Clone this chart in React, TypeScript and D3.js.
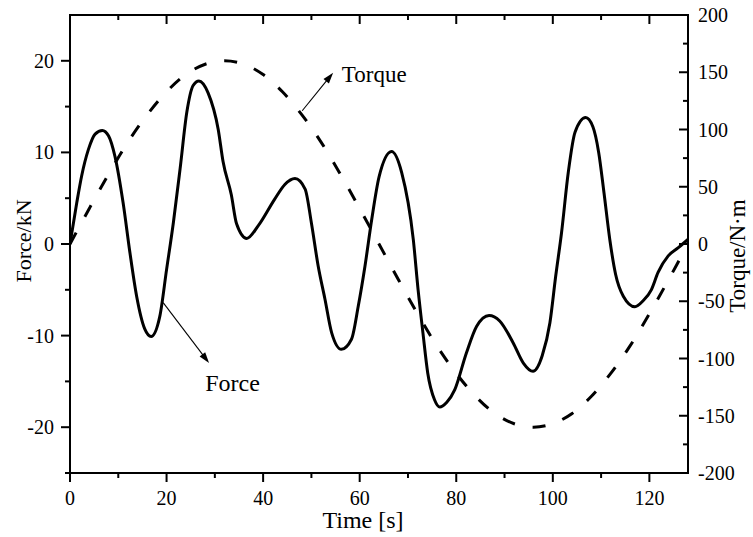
import React from "react";
import * as d3 from "d3";

const W = 753;
const H = 537;
const M = { left: 70, top: 15, right: 65, bottom: 64 };

// Force curve (time in s, force in kN)
const forceTime = [0, 1.4, 2.4, 3.8, 5.2, 6.7, 8.0, 9.3, 11.0, 12.4, 13.8, 15.5, 16.8, 18.6, 20.0, 21.4, 22.8, 24.2, 25.5, 26.7, 28.6, 30.7, 31.7, 33.4, 34.5, 36.6, 39.0, 42.4, 44.5, 46.6, 48.7, 50.0, 51.4, 52.8, 54.2, 56.2, 58.3, 59.7, 61.1, 62.5, 64.0, 66.6, 68.7, 71.1, 72.1, 73.1, 74.1, 75.5, 76.6, 78.0, 79.7, 82.1, 84.2, 86.8, 89.0, 91.8, 93.9, 95.9, 97.8, 99.4, 100.6, 101.8, 103.2, 104.6, 106.8, 108.3, 109.5, 110.6, 111.8, 113.0, 114.6, 117.0, 118.7, 120.4, 121.8, 123.9, 126.0, 128];
const forceValue = [0, 4.5, 7.4, 10.3, 12.0, 12.4, 11.8, 9.6, 4.5, -0.9, -5.7, -9.3, -10.1, -7.9, -2.8, 2.3, 8.2, 14.4, 17.3, 17.8, 16.5, 12.5, 9.0, 5.4, 2.2, 0.6, 2.0, 4.9, 6.5, 7.15, 6.0, 2.3, -2.4, -6.0, -9.7, -11.5, -10.4, -6.8, -2.4, 2.7, 7.3, 10.1, 7.8, 0.5, -5.0, -9.7, -14.1, -17.0, -17.8, -17.3, -15.9, -11.9, -9.0, -7.8, -8.4, -10.8, -13.0, -13.9, -12.2, -8.6, -3.5, 1.2, 7.8, 12.2, 13.8, 12.8, 10.0, 5.6, 0.5, -3.3, -5.7, -6.85, -6.2, -5.0, -3.1, -1.3, -0.4, 0.5];

// Torque curve (time in s, torque in N·m)
const torqueTime = [0, 4, 8, 12, 16, 20, 24, 28, 32, 36, 40, 44, 48, 52, 56, 60, 64, 68, 72, 76, 80, 84, 88, 92, 96, 100, 104, 108, 112, 116, 120, 124, 128];
const torqueValue = [0, 31, 61, 89, 113, 133, 148, 157, 160, 157, 148, 133, 113, 89, 61, 31, 0, -31, -61, -89, -113, -133, -148, -157, -160, -157, -148, -133, -113, -89, -61, -31, 0];

const xTicks = [0, 20, 40, 60, 80, 100, 120];
const xMinor = [10, 30, 50, 70, 90, 110];
const yLeftTicks = [-20, -10, 0, 10, 20];
const yLeftMinor = [-25, -15, -5, 5, 15];
const yRightTicks = [-200, -150, -100, -50, 0, 50, 100, 150, 200];
const yRightMinor = [-175, -125, -75, -25, 25, 75, 125, 175];

// annotations in data units
const forceNote = { label: "Force", tail: [19.3, -6.4], tip: [28.8, -13.0], text: [28.0, -16.1] };
const torqueNote = { label: "Torque", tail: [48.1, 116.4], tip: [54.5, 149.6], text: [56.3, 141.7] };

const FONT = "'Liberation Serif', 'Times New Roman', serif";

function Arrow({ x1, y1, x2, y2 }: { x1: number; y1: number; x2: number; y2: number }) {
  const dx = x2 - x1, dy = y2 - y1;
  const len = Math.hypot(dx, dy);
  const ux = dx / len, uy = dy / len;
  const hl = 11, hw = 3.5;
  const bx = x2 - ux * hl, by = y2 - uy * hl;
  const p = `${x2},${y2} ${bx - uy * hw},${by + ux * hw} ${bx + uy * hw},${by - ux * hw}`;
  return (
    <g>
      <line x1={x1} y1={y1} x2={bx + ux * 2} y2={by + uy * 2} stroke="#000" strokeWidth={1.1} />
      <polygon points={p} fill="#000" />
    </g>
  );
}

export default function App() {
  const x0 = M.left, x1 = W - M.right, y0 = M.top, y1 = H - M.bottom;
  const x = d3.scaleLinear().domain([0, 128]).range([x0, x1]);
  const yL = d3.scaleLinear().domain([-25, 25]).range([y1, y0]);
  const yR = d3.scaleLinear().domain([-200, 200]).range([y1, y0]);

  const forceLine = d3
    .line<number>()
    .x((_, i) => x(forceTime[i]))
    .y((d) => yL(d))
    .curve(d3.curveMonotoneX);
  const torqueLine = d3
    .line<number>()
    .x((_, i) => x(torqueTime[i]))
    .y((d) => yR(d))
    .curve(d3.curveCatmullRom.alpha(0.5));

  const major = 9, minor = 5;
  const tickFont = 20;

  return (
    <svg width={W} height={H} style={{ position: "absolute", left: 0, top: 0, background: "#fff", fontFamily: FONT }}>
      <rect x={0} y={0} width={W} height={H} fill="#fff" />
      <defs>
        <clipPath id="plotclip">
          <rect x={x0} y={y0} width={x1 - x0} height={y1 - y0} />
        </clipPath>
      </defs>

      <g clipPath="url(#plotclip)">
        <path d={torqueLine(torqueValue) || ""} fill="none" stroke="#000" strokeWidth={3} strokeDasharray="13,18" />
        <path d={forceLine(forceValue) || ""} fill="none" stroke="#000" strokeWidth={3} strokeLinejoin="round" />
      </g>

      {/* frame */}
      <rect x={x0} y={y0} width={x1 - x0} height={y1 - y0} fill="none" stroke="#000" strokeWidth={2} />

      {/* bottom axis ticks (outward) and top ticks (inward) */}
      {xTicks.map((t) => (
        <g key={"xt" + t}>
          <line x1={x(t)} x2={x(t)} y1={y1} y2={y1 + major} stroke="#000" strokeWidth={2} />
          <line x1={x(t)} x2={x(t)} y1={y0} y2={y0 + major} stroke="#000" strokeWidth={2} />
          <text x={x(t)} y={505} fontSize={tickFont} textAnchor="middle">{t}</text>
        </g>
      ))}
      {xMinor.map((t) => (
        <g key={"xm" + t}>
          <line x1={x(t)} x2={x(t)} y1={y1} y2={y1 + minor} stroke="#000" strokeWidth={2} />
          <line x1={x(t)} x2={x(t)} y1={y0} y2={y0 + minor} stroke="#000" strokeWidth={2} />
        </g>
      ))}

      {/* left axis ticks (outward) */}
      {yLeftTicks.map((v) => (
        <g key={"yl" + v}>
          <line x1={x0 - major} x2={x0} y1={yL(v)} y2={yL(v)} stroke="#000" strokeWidth={2} />
          <text x={54} y={yL(v)} dy="0.35em" fontSize={tickFont} textAnchor="end">{v}</text>
        </g>
      ))}
      {yLeftMinor.map((v) => (
        <line key={"ylm" + v} x1={x0 - minor} x2={x0} y1={yL(v)} y2={yL(v)} stroke="#000" strokeWidth={2} />
      ))}

      {/* right axis ticks (inward) */}
      {yRightTicks.map((v) => (
        <g key={"yr" + v}>
          <line x1={x1 - major} x2={x1} y1={yR(v)} y2={yR(v)} stroke="#000" strokeWidth={2} />
          <text x={698} y={yR(v)} dy="0.35em" fontSize={tickFont} textAnchor="start">{v}</text>
        </g>
      ))}
      {yRightMinor.map((v) => (
        <line key={"yrm" + v} x1={x1 - minor} x2={x1} y1={yR(v)} y2={yR(v)} stroke="#000" strokeWidth={2} />
      ))}

      {/* axis titles */}
      <text x={363} y={528} fontSize={24} textAnchor="middle">Time [s]</text>
      <text transform={`translate(31, 241) rotate(-90)`} fontSize={22} textAnchor="middle">Force/kN</text>
      <text transform={`translate(745, 256) rotate(-90)`} fontSize={23} textAnchor="middle">Torque/N·m</text>

      {/* annotations */}
      <Arrow x1={x(forceNote.tail[0])} y1={yL(forceNote.tail[1])} x2={x(forceNote.tip[0])} y2={yL(forceNote.tip[1])} />
      <text x={x(forceNote.text[0])} y={yL(forceNote.text[1])} fontSize={24}>{forceNote.label}</text>
      <Arrow x1={x(torqueNote.tail[0])} y1={yR(torqueNote.tail[1])} x2={x(torqueNote.tip[0])} y2={yR(torqueNote.tip[1])} />
      <text x={x(torqueNote.text[0])} y={yR(torqueNote.text[1])} fontSize={23}>{torqueNote.label}</text>
    </svg>
  );
}
